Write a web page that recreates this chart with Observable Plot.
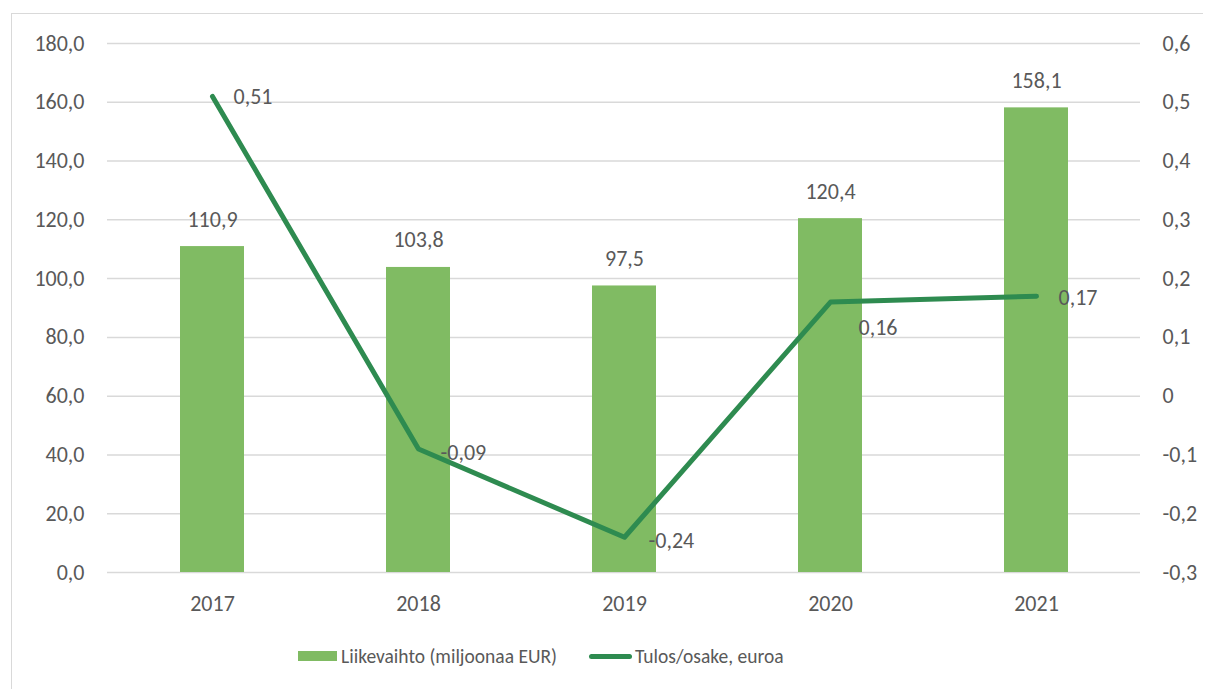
<!DOCTYPE html>
<html>
<head>
<meta charset="utf-8">
<script src="https://cdn.jsdelivr.net/npm/d3@7"></script>
<script src="https://cdn.jsdelivr.net/npm/@observablehq/plot@0.6"></script>
<style>
  html, body { margin: 0; padding: 0; background: #fff; }
  body { width: 1205px; height: 691px; position: relative; overflow: hidden; font-family: Carlito, Calibri, Lato, sans-serif; }
  #frame { position: absolute; left: 11px; top: 13px; width: 1192px; height: 676px; border: 1.5px solid #d9d9d9; border-right: none; border-bottom: none; box-sizing: border-box; }
  #chart { position: absolute; left: 0; top: 0; }
  #legend { position: absolute; top: 644px; left: 298px; display: flex; align-items: center; color: #595959; font-size: 19.5px; white-space: nowrap; }
  .sw-bar { display: inline-block; width: 39px; height: 10px; background: #80bb63; margin-right: 4px; }
  .sw-line { display: inline-block; width: 43px; height: 5px; border-radius: 3px; background: #2e8b50; margin-right: 3px; margin-left: 32px; }
</style>
</head>
<body>
<div id="frame"></div>
<div id="chart"></div>
<div id="legend">
  <span class="sw-bar"></span><span>Liikevaihto (miljoonaa EUR)</span>
  <span class="sw-line"></span><span>Tulos/osake, euroa</span>
</div>
<script>
const years = ["2017", "2018", "2019", "2020", "2021"];
const revenue = [110.9, 103.8, 97.5, 120.4, 158.1];
const eps = [0.51, -0.09, -0.24, 0.16, 0.17];
const leftTicks = [0, 20, 40, 60, 80, 100, 120, 140, 160, 180];
const rightTicks = [-0.3, -0.2, -0.1, 0, 0.1, 0.2, 0.3, 0.4, 0.5, 0.6];

// map right-axis values onto the left scale domain [0,180]
const toLeft = v => (v + 0.3) / 0.9 * 180;
const fromLeft = d => d / 180 * 0.9 - 0.3;
const fmtL = d => d.toFixed(1).replace(".", ",");
const fmtR = v => { const r = Math.round(v * 10) / 10; return r === 0 ? "0" : String(r).replace(".", ","); };
const fmtEps = v => v.toFixed(2).replace(".", ",");

const bars = years.map((y, i) => ({year: y, value: revenue[i]}));
const line = years.map((y, i) => ({year: y, eps: eps[i], yl: toLeft(eps[i])}));

const font = "Carlito, Calibri, Lato, sans-serif";
const gray = "#595959";
const fs = 22;
const lbl = (i, dx, dy) => Plot.text([line[i]], {x: "year", y: "yl", text: d => fmtEps(d.eps), dx, dy, textAnchor: "start", fill: gray, fontSize: fs});

const chart = Plot.plot({
  width: 1205,
  height: 620,
  marginTop: 43,
  marginBottom: 48,
  marginLeft: 107,
  marginRight: 65,
  style: {fontFamily: font, fontSize: fs + "px", color: gray, background: "transparent"},
  x: {domain: years, paddingInner: 0.69, paddingOuter: 0.345, label: null},
  y: {domain: [0, 180], label: null},
  marks: [
    Plot.ruleY(leftTicks, {stroke: "#d9d9d9", strokeWidth: 1.5}),
    Plot.barY(bars, {x: "year", y: "value", fill: "#80bb63"}),
    Plot.text(bars, {x: "year", y: "value", text: d => fmtL(d.value), dy: -27, fill: gray, fontSize: fs}),
    Plot.line(line, {x: "year", y: "yl", stroke: "#2e8b50", strokeWidth: 5, strokeLinecap: "round", strokeLinejoin: "round"}),
    lbl(0, 21, 1),
    lbl(1, 22, 4),
    lbl(2, 24, 4),
    lbl(3, 28, 26),
    lbl(4, 22, 2),
    Plot.axisY(leftTicks, {anchor: "left", tickSize: 0, tickPadding: 23, tickFormat: fmtL, fill: gray, fontSize: fs, label: null}),
    Plot.axisY(rightTicks.map(toLeft), {anchor: "right", tickSize: 0, tickPadding: 22, tickFormat: d => fmtR(fromLeft(d)), fill: gray, fontSize: fs, label: null}),
    Plot.axisX({tickSize: 0, tickPadding: 23, fill: gray, fontSize: fs, label: null})
  ]
});
document.getElementById("chart").appendChild(chart);
</script>
</body>
</html>
